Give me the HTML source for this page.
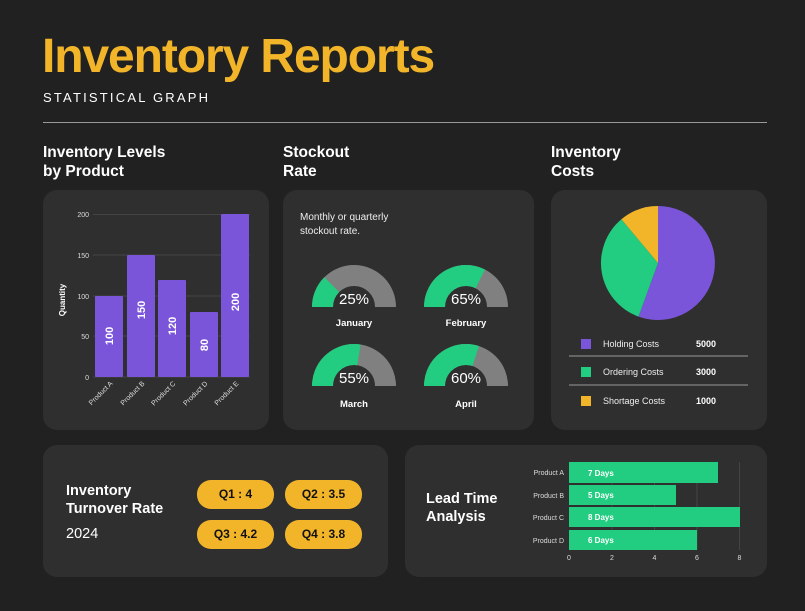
<!DOCTYPE html>
<html><head><meta charset="utf-8"><style>
*{margin:0;padding:0;box-sizing:border-box}
body{width:805px;height:611px;background:#212121;font-family:"Liberation Sans",sans-serif;color:#fff;position:relative;overflow:hidden}
.a{position:absolute}
.card{position:absolute;background:#2f2f2f;border-radius:14px}
h1{position:absolute;left:42px;top:29px;font-size:48px;font-weight:bold;color:#f2b52a;letter-spacing:-1.1px}
.sub{left:43px;top:90px;font-size:13px;letter-spacing:2.2px}
.t{font-weight:bold;font-size:15.5px;line-height:19px}
.pill{position:absolute;background:#f2b52a;color:#111;font-weight:bold;font-size:12px;border-radius:14px;width:77px;height:29px;line-height:29px;text-align:center}
</style></head><body>
<h1>Inventory Reports</h1>
<div class="a sub">STATISTICAL GRAPH</div>
<div class="a" style="left:43px;top:122px;width:724px;height:1px;background:#999"></div>
<div class="a t" style="left:43px;top:143px">Inventory Levels<br>by Product</div>
<div class="a t" style="left:283px;top:143px">Stockout<br>Rate</div>
<div class="a t" style="left:551px;top:143px">Inventory<br>Costs</div>
<div class="card" style="left:43px;top:190px;width:226px;height:240px"></div>
<div class="card" style="left:283px;top:190px;width:251px;height:240px"></div>
<div class="card" style="left:551px;top:190px;width:216px;height:240px"></div>
<div class="card" style="left:43px;top:445px;width:345px;height:132px"></div>
<div class="card" style="left:405px;top:445px;width:362px;height:132px"></div>
<svg class="a" style="left:0;top:0" width="805" height="611" font-family="Liberation Sans, sans-serif">
<g stroke="#444" stroke-width="1">
<line x1="93" x2="250" y1="214.5" y2="214.5"/><line x1="93" x2="250" y1="255" y2="255"/><line x1="93" x2="250" y1="296" y2="296"/><line x1="93" x2="250" y1="336" y2="336"/><line x1="93" x2="250" y1="377" y2="377"/>
</g>
<g fill="#ddd" font-size="7" text-anchor="end">
<text x="89" y="217">200</text><text x="89" y="258">150</text><text x="89" y="299">100</text><text x="89" y="339">50</text><text x="89" y="380">0</text>
</g>
<text transform="translate(65,300) rotate(-90)" font-size="8" font-weight="bold" text-anchor="middle" fill="#fff">Quantity</text>
<g fill="#7b55d9">
<rect x="95" y="296" width="28" height="81" rx="1"/><rect x="127" y="255" width="28" height="122" rx="1"/><rect x="158" y="280" width="28" height="97" rx="1"/><rect x="190" y="312" width="28" height="65" rx="1"/><rect x="221" y="214" width="28" height="163" rx="1"/>
</g>
<g fill="#fff" font-size="11" font-weight="bold" text-anchor="middle">
<text transform="translate(113,336) rotate(-90)">100</text><text transform="translate(145,310) rotate(-90)">150</text><text transform="translate(176,326) rotate(-90)">120</text><text transform="translate(208,345) rotate(-90)">80</text><text transform="translate(239,302) rotate(-90)">200</text>
</g>
<g fill="#ddd" font-size="7" text-anchor="end">
<text transform="translate(113,384) rotate(-45)">Product A</text><text transform="translate(145,384) rotate(-45)">Product B</text><text transform="translate(176,384) rotate(-45)">Product C</text><text transform="translate(208,384) rotate(-45)">Product D</text><text transform="translate(239,384) rotate(-45)">Product E</text>
</g>
<text x="300" y="220" font-size="10" fill="#eee">Monthly or quarterly</text>
<text x="300" y="234" font-size="10" fill="#eee">stockout rate.</text>
<g fill="none" stroke-width="21">
<path d="M322.5 307 A31.5 31.5 0 0 1 385.5 307" stroke="#808080"/>
<path d="M322.5 307 A31.5 31.5 0 0 1 385.5 307" stroke="#22cc80" pathLength="100" stroke-dasharray="25 200"/>
<path d="M434.5 307 A31.5 31.5 0 0 1 497.5 307" stroke="#808080"/>
<path d="M434.5 307 A31.5 31.5 0 0 1 497.5 307" stroke="#22cc80" pathLength="100" stroke-dasharray="65 200"/>
<path d="M322.5 386 A31.5 31.5 0 0 1 385.5 386" stroke="#808080"/>
<path d="M322.5 386 A31.5 31.5 0 0 1 385.5 386" stroke="#22cc80" pathLength="100" stroke-dasharray="55 200"/>
<path d="M434.5 386 A31.5 31.5 0 0 1 497.5 386" stroke="#808080"/>
<path d="M434.5 386 A31.5 31.5 0 0 1 497.5 386" stroke="#22cc80" pathLength="100" stroke-dasharray="60 200"/>
</g>
<g fill="#fff" font-size="15" text-anchor="middle">
<text x="354" y="304">25%</text><text x="466" y="304">65%</text><text x="354" y="383">55%</text><text x="466" y="383">60%</text>
</g>
<g fill="#fff" font-size="9.5" font-weight="bold" text-anchor="middle">
<text x="354" y="326">January</text><text x="466" y="326">February</text><text x="354" y="407">March</text><text x="466" y="407">April</text>
</g>
<path d="M658 263 L658 206 A57 57 0 1 1 638.5 316.6 Z" fill="#7b55d9"/>
<path d="M658 263 L638.5 316.6 A57 57 0 0 1 621.4 219.3 Z" fill="#22cc80"/>
<path d="M658 263 L621.4 219.3 A57 57 0 0 1 658 206 Z" fill="#f2b52a"/>
<rect x="581" y="339" width="10" height="10" fill="#7b55d9"/>
<rect x="581" y="367" width="10" height="10" fill="#22cc80"/>
<rect x="581" y="396" width="10" height="10" fill="#f2b52a"/>
<g fill="#eee" font-size="9"><text x="603" y="347">Holding Costs</text><text x="603" y="375">Ordering Costs</text><text x="603" y="404">Shortage Costs</text></g>
<g fill="#fff" font-size="9" font-weight="bold"><text x="696" y="347">5000</text><text x="696" y="375">3000</text><text x="696" y="404">1000</text></g>
<line x1="569" x2="748" y1="356" y2="356" stroke="#999"/><line x1="569" x2="748" y1="385" y2="385" stroke="#999"/>
<g stroke="#444"><line x1="612" x2="612" y1="462" y2="550"/><line x1="654.5" x2="654.5" y1="462" y2="550"/><line x1="697" x2="697" y1="462" y2="550"/><line x1="739.5" x2="739.5" y1="462" y2="550"/></g>
<g fill="#22cc80">
<rect x="569" y="462" width="149" height="21"/><rect x="569" y="485" width="107" height="20"/><rect x="569" y="507" width="171" height="20"/><rect x="569" y="530" width="128" height="20"/>
</g>
<g fill="#fff" font-size="8" font-weight="bold"><text x="588" y="476">7 Days</text><text x="588" y="498">5 Days</text><text x="588" y="520">8 Days</text><text x="588" y="543">6 Days</text></g>
<g fill="#ddd" font-size="7" text-anchor="end"><text x="564" y="475">Product A</text><text x="564" y="498">Product B</text><text x="564" y="520">Product C</text><text x="564" y="543">Product D</text></g>
<g fill="#ddd" font-size="7" text-anchor="middle"><text x="569" y="560">0</text><text x="612" y="560">2</text><text x="654.5" y="560">4</text><text x="697" y="560">6</text><text x="739.5" y="560">8</text></g>
<text x="426" y="503" font-size="14.5" font-weight="bold" fill="#fff">Lead Time</text>
<text x="426" y="521" font-size="14.5" font-weight="bold" fill="#fff">Analysis</text>
<text x="66" y="495" font-size="14.5" font-weight="bold" fill="#fff">Inventory</text>
<text x="66" y="513" font-size="14.5" font-weight="bold" fill="#fff">Turnover Rate</text>
<text x="66" y="538" font-size="14.5" fill="#fff">2024</text>
</svg>
<div class="pill" style="left:197px;top:480px">Q1 : 4</div>
<div class="pill" style="left:285px;top:480px">Q2 : 3.5</div>
<div class="pill" style="left:197px;top:520px">Q3 : 4.2</div>
<div class="pill" style="left:285px;top:520px">Q4 : 3.8</div>
</body></html>
